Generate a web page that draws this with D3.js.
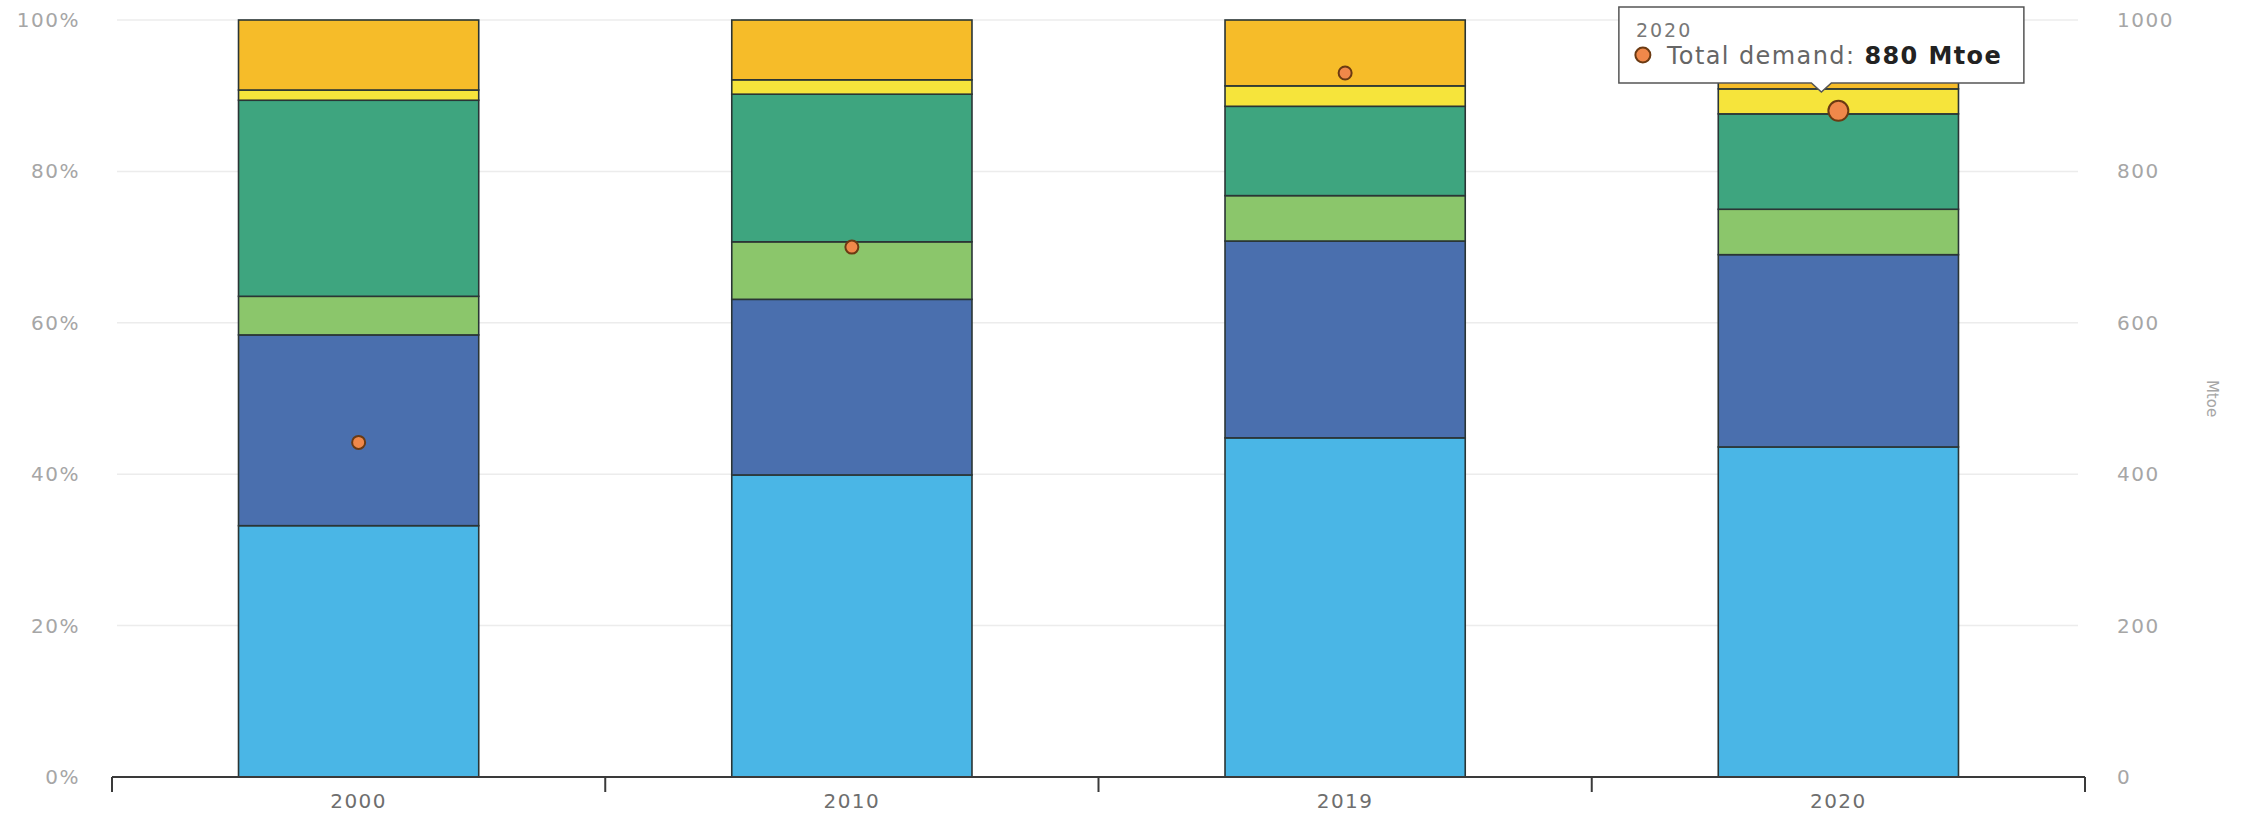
<!DOCTYPE html>
<html>
<head>
<meta charset="utf-8">
<script src="https://cdn.jsdelivr.net/npm/d3@7"></script>
<style>
  html, body { margin: 0; padding: 0; background: #ffffff; }
  svg { display: block; font-family: "DejaVu Sans", "Open Sans", sans-serif; }
</style>
</head>
<body>
<svg id="chart" width="2244" height="817"></svg>
<script>
// ---------- data ----------
const years = ["2000", "2010", "2019", "2020"];
// shares of total (%), stacked bottom to top
const shareLightBlue = [33.2, 39.9, 44.8, 43.6];
const shareDarkBlue = [25.2, 23.2, 26.0, 25.4];
const shareLightGreen = [5.1, 7.6, 6.0, 6.0];
const shareTeal = [25.9, 19.5, 11.8, 12.6];
const shareYellow = [1.35, 1.9, 2.7, 3.3];
const shareOrange = [9.25, 7.9, 8.7, 9.1];
// total demand (Mtoe), right axis
const totalDemand = [442, 700, 930, 880];
const pctTicks = [0, 20, 40, 60, 80, 100];
const mtoeTicks = [0, 200, 400, 600, 800, 1000];
const highlightYear = "2020";

// ---------- build ----------
const seriesKeys = ["lightBlue", "darkBlue", "lightGreen", "teal", "yellow", "orange"];
const seriesArrays = [shareLightBlue, shareDarkBlue, shareLightGreen, shareTeal, shareYellow, shareOrange];
const colors = {
  lightBlue: "#4ab6e6",
  darkBlue: "#4a6fae",
  lightGreen: "#8bc66b",
  teal: "#3ea57f",
  yellow: "#f6e43b",
  orange: "#f6bc29"
};
const rows = years.map((y, i) => {
  const r = { year: y, demand: totalDemand[i] };
  seriesKeys.forEach((k, j) => r[k] = seriesArrays[j][i]);
  return r;
});

const svg = d3.select("#chart");
const plotLeft = 112, plotRight = 2085, plotTop = 20, plotBottom = 777;

const x = d3.scaleBand().domain(years).range([plotLeft, plotRight])
  .paddingInner(0.513).paddingOuter(0.2565);
const xAxisScale = d3.scaleBand().domain(years).range([plotLeft, plotRight]).padding(0);
const yPct = d3.scaleLinear().domain([0, 100]).range([plotBottom, plotTop]);
const yMtoe = d3.scaleLinear().domain([0, 1000]).range([plotBottom, plotTop]);

// gridlines
svg.append("g").selectAll("line").data(pctTicks.filter(d => d > 0)).join("line")
  .attr("x1", 117).attr("x2", 2078)
  .attr("y1", d => yPct(d)).attr("y2", d => yPct(d))
  .attr("stroke", "#ececec").attr("stroke-width", 1.5);

// left axis
const gl = svg.append("g").attr("transform", `translate(${plotLeft},0)`)
  .call(d3.axisLeft(yPct).tickValues(pctTicks).tickFormat(d => d + "%").tickSize(0).tickPadding(32));
gl.select(".domain").remove();
gl.selectAll("text").attr("font-size", 20).attr("letter-spacing", 1.5)
  .attr("fill", "#a6a6a6").attr("font-family", "DejaVu Sans");

// right axis
const gr = svg.append("g").attr("transform", `translate(${plotRight},0)`)
  .call(d3.axisRight(yMtoe).tickValues(mtoeTicks).tickFormat(d3.format("d")).tickSize(0).tickPadding(32));
gr.select(".domain").remove();
gr.selectAll("text").attr("font-size", 20).attr("letter-spacing", 1.5)
  .attr("fill", "#a6a6a6").attr("font-family", "DejaVu Sans");

svg.append("text")
  .attr("transform", `translate(2207,${(plotTop + plotBottom) / 2}) rotate(90)`)
  .attr("text-anchor", "middle")
  .attr("font-size", 15).attr("fill", "#a6a6a6")
  .text("Mtoe");

// stacked bars
const stack = d3.stack().keys(seriesKeys);
const stacked = stack(rows);
svg.append("g").selectAll("g").data(stacked).join("g")
  .attr("fill", d => colors[d.key])
  .selectAll("rect").data(d => d).join("rect")
  .attr("x", d => x(d.data.year))
  .attr("width", x.bandwidth())
  .attr("y", d => yPct(d[1]))
  .attr("height", d => yPct(d[0]) - yPct(d[1]))
  .attr("stroke", "#2a3535").attr("stroke-width", 1.6);

// bottom axis
const gb = svg.append("g").attr("transform", `translate(0,${plotBottom})`)
  .call(d3.axisBottom(x).tickSize(0).tickPadding(17));
gb.select(".domain").remove();
gb.selectAll("text").attr("font-size", 20).attr("letter-spacing", 1.5)
  .attr("fill", "#6e6e6e").attr("font-family", "DejaVu Sans");
svg.append("line")
  .attr("x1", plotLeft).attr("x2", plotRight)
  .attr("y1", plotBottom).attr("y2", plotBottom)
  .attr("stroke", "#3a3a3a").attr("stroke-width", 2);
const boundaries = years.map(y => xAxisScale(y)).concat([plotRight]);
svg.append("g").selectAll("line").data(boundaries).join("line")
  .attr("x1", d => d).attr("x2", d => d)
  .attr("y1", plotBottom).attr("y2", plotBottom + 15)
  .attr("stroke", "#3a3a3a").attr("stroke-width", 2);

// demand dots
svg.append("g").selectAll("circle").data(rows).join("circle")
  .attr("cx", d => x(d.year) + x.bandwidth() / 2)
  .attr("cy", d => yMtoe(d.demand))
  .attr("r", d => d.year === highlightYear ? 10 : 6.5)
  .attr("fill", "#f0884a")
  .attr("stroke", "#6b3a12").attr("stroke-width", 2);

// tooltip
const hRow = rows.find(r => r.year === highlightYear);
const tipCx = x(hRow.year) + x.bandwidth() / 2 - 17;
const tipW = 405, tipTop = 7, tipH = 76;
const tipL = tipCx - tipW / 2;
const tip = svg.append("g");
tip.append("path")
  .attr("d", `M${tipL},${tipTop} H${tipL + tipW} V${tipTop + tipH} H${tipCx + 10} L${tipCx},${tipTop + tipH + 9} L${tipCx - 10},${tipTop + tipH} H${tipL} Z`)
  .attr("fill", "#ffffff").attr("stroke", "#555").attr("stroke-width", 1.5);
tip.append("text").attr("x", tipL + 17).attr("y", tipTop + 30)
  .attr("font-size", 19).attr("letter-spacing", 2).attr("fill", "#777").text(hRow.year);
tip.append("circle").attr("cx", tipL + 24).attr("cy", tipTop + 48).attr("r", 7.5)
  .attr("fill", "#f0884a").attr("stroke", "#6b3a12").attr("stroke-width", 2);
const t2 = tip.append("text").attr("x", tipL + 48).attr("y", tipTop + 57)
  .attr("font-size", 24).attr("letter-spacing", 1.4);
t2.append("tspan").attr("fill", "#666").text("Total demand: ");
t2.append("tspan").attr("fill", "#222").attr("font-weight", "bold").text(hRow.demand + " Mtoe");
</script>
</body>
</html>
